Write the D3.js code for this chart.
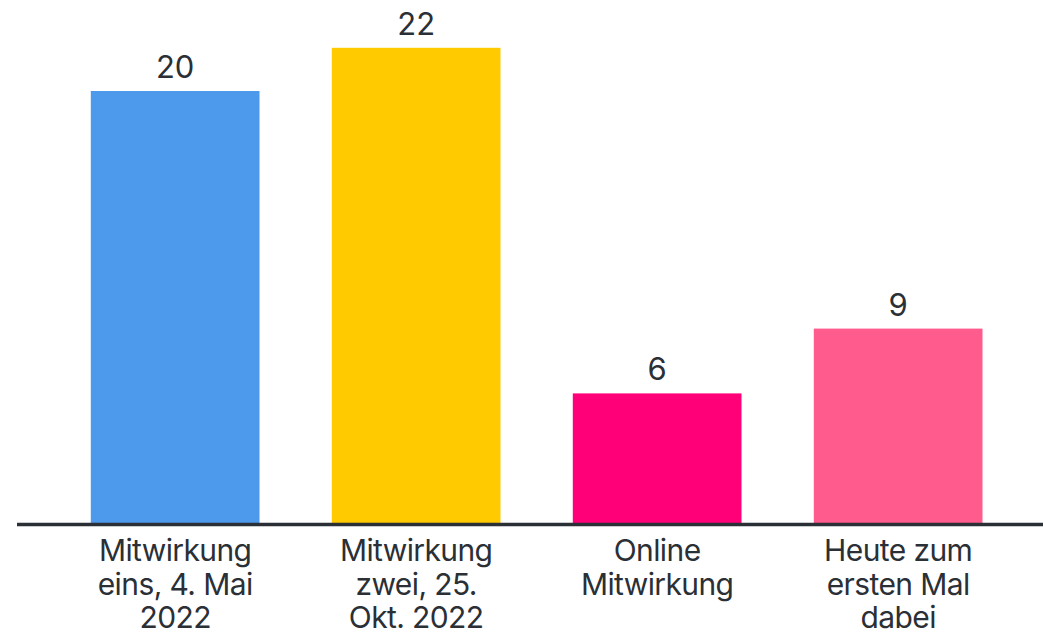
<!DOCTYPE html>
<html>
<head>
<meta charset="utf-8">
<script src="https://cdn.jsdelivr.net/npm/d3@7"></script>
<style>
    html, body { margin: 0; padding: 0; background: #fff; }
    svg { display: block; }
</style>
</head>
<body>
<svg id="chart"></svg>
<script>
// chart data
const categories = [
    ["Mitwirkung", "eins, 4. Mai", "2022"],
    ["Mitwirkung", "zwei, 25.", "Okt. 2022"],
    ["Online", "Mitwirkung"],
    ["Heute zum", "ersten Mal", "dabei"]
];
const values = [20, 22, 6, 9];
const colors = ["#4d99ec", "#ffca00", "#ff0079", "#ff5b8c"];

let width = 1043;
let height = 636;
let baseline = 523;
let textColor = "#2b2f36";
let font = "Inter, 'DejaVu Sans', sans-serif";

let svg = d3.select("#chart").attr("width", width).attr("height", height);

let x = d3.scaleBand()
    .domain(d3.range(values.length))
    .range([18.5, 1054.8])
    .paddingInner(0.3)
    .paddingOuter(0.3);

let y = d3.scaleLinear([0, 22], [baseline, baseline - 22 * 21.6]);

// bars
svg.append("g")
    .selectAll("rect")
    .data(values)
    .join("rect")
    .attr("x", (d, i) => x(i))
    .attr("y", d => y(d))
    .attr("width", x.bandwidth())
    .attr("height", d => y(0) - y(d))
    .attr("fill", (d, i) => colors[i]);

// value labels
svg.append("g")
    .selectAll("text")
    .data(values)
    .join("text")
    .attr("x", (d, i) => x(i) + x.bandwidth() / 2)
    .attr("y", d => y(d) - 13)
    .attr("text-anchor", "middle")
    .style("font", `400 31px ${font}`)
    .attr("fill", textColor)
    .text(d => d);

// baseline
svg.append("line")
    .attr("x1", 17)
    .attr("x2", width)
    .attr("y1", baseline + 1.5)
    .attr("y2", baseline + 1.5)
    .attr("stroke", textColor)
    .attr("stroke-width", 3.5);

// category labels
let cat = svg.append("g")
    .selectAll("text")
    .data(categories)
    .join("text")
    .attr("text-anchor", "middle")
    .style("font", `400 30px ${font}`)
    .style("letter-spacing", "-0.6px")
    .attr("fill", textColor)
    .attr("transform", (d, i) => `translate(${x(i) + x.bandwidth() / 2},${baseline + 38})`);

cat.selectAll("tspan")
    .data(d => d)
    .join("tspan")
    .attr("x", 0)
    .attr("y", (d, i) => i * 33.5)
    .text(d => d);
</script>
</body>
</html>
